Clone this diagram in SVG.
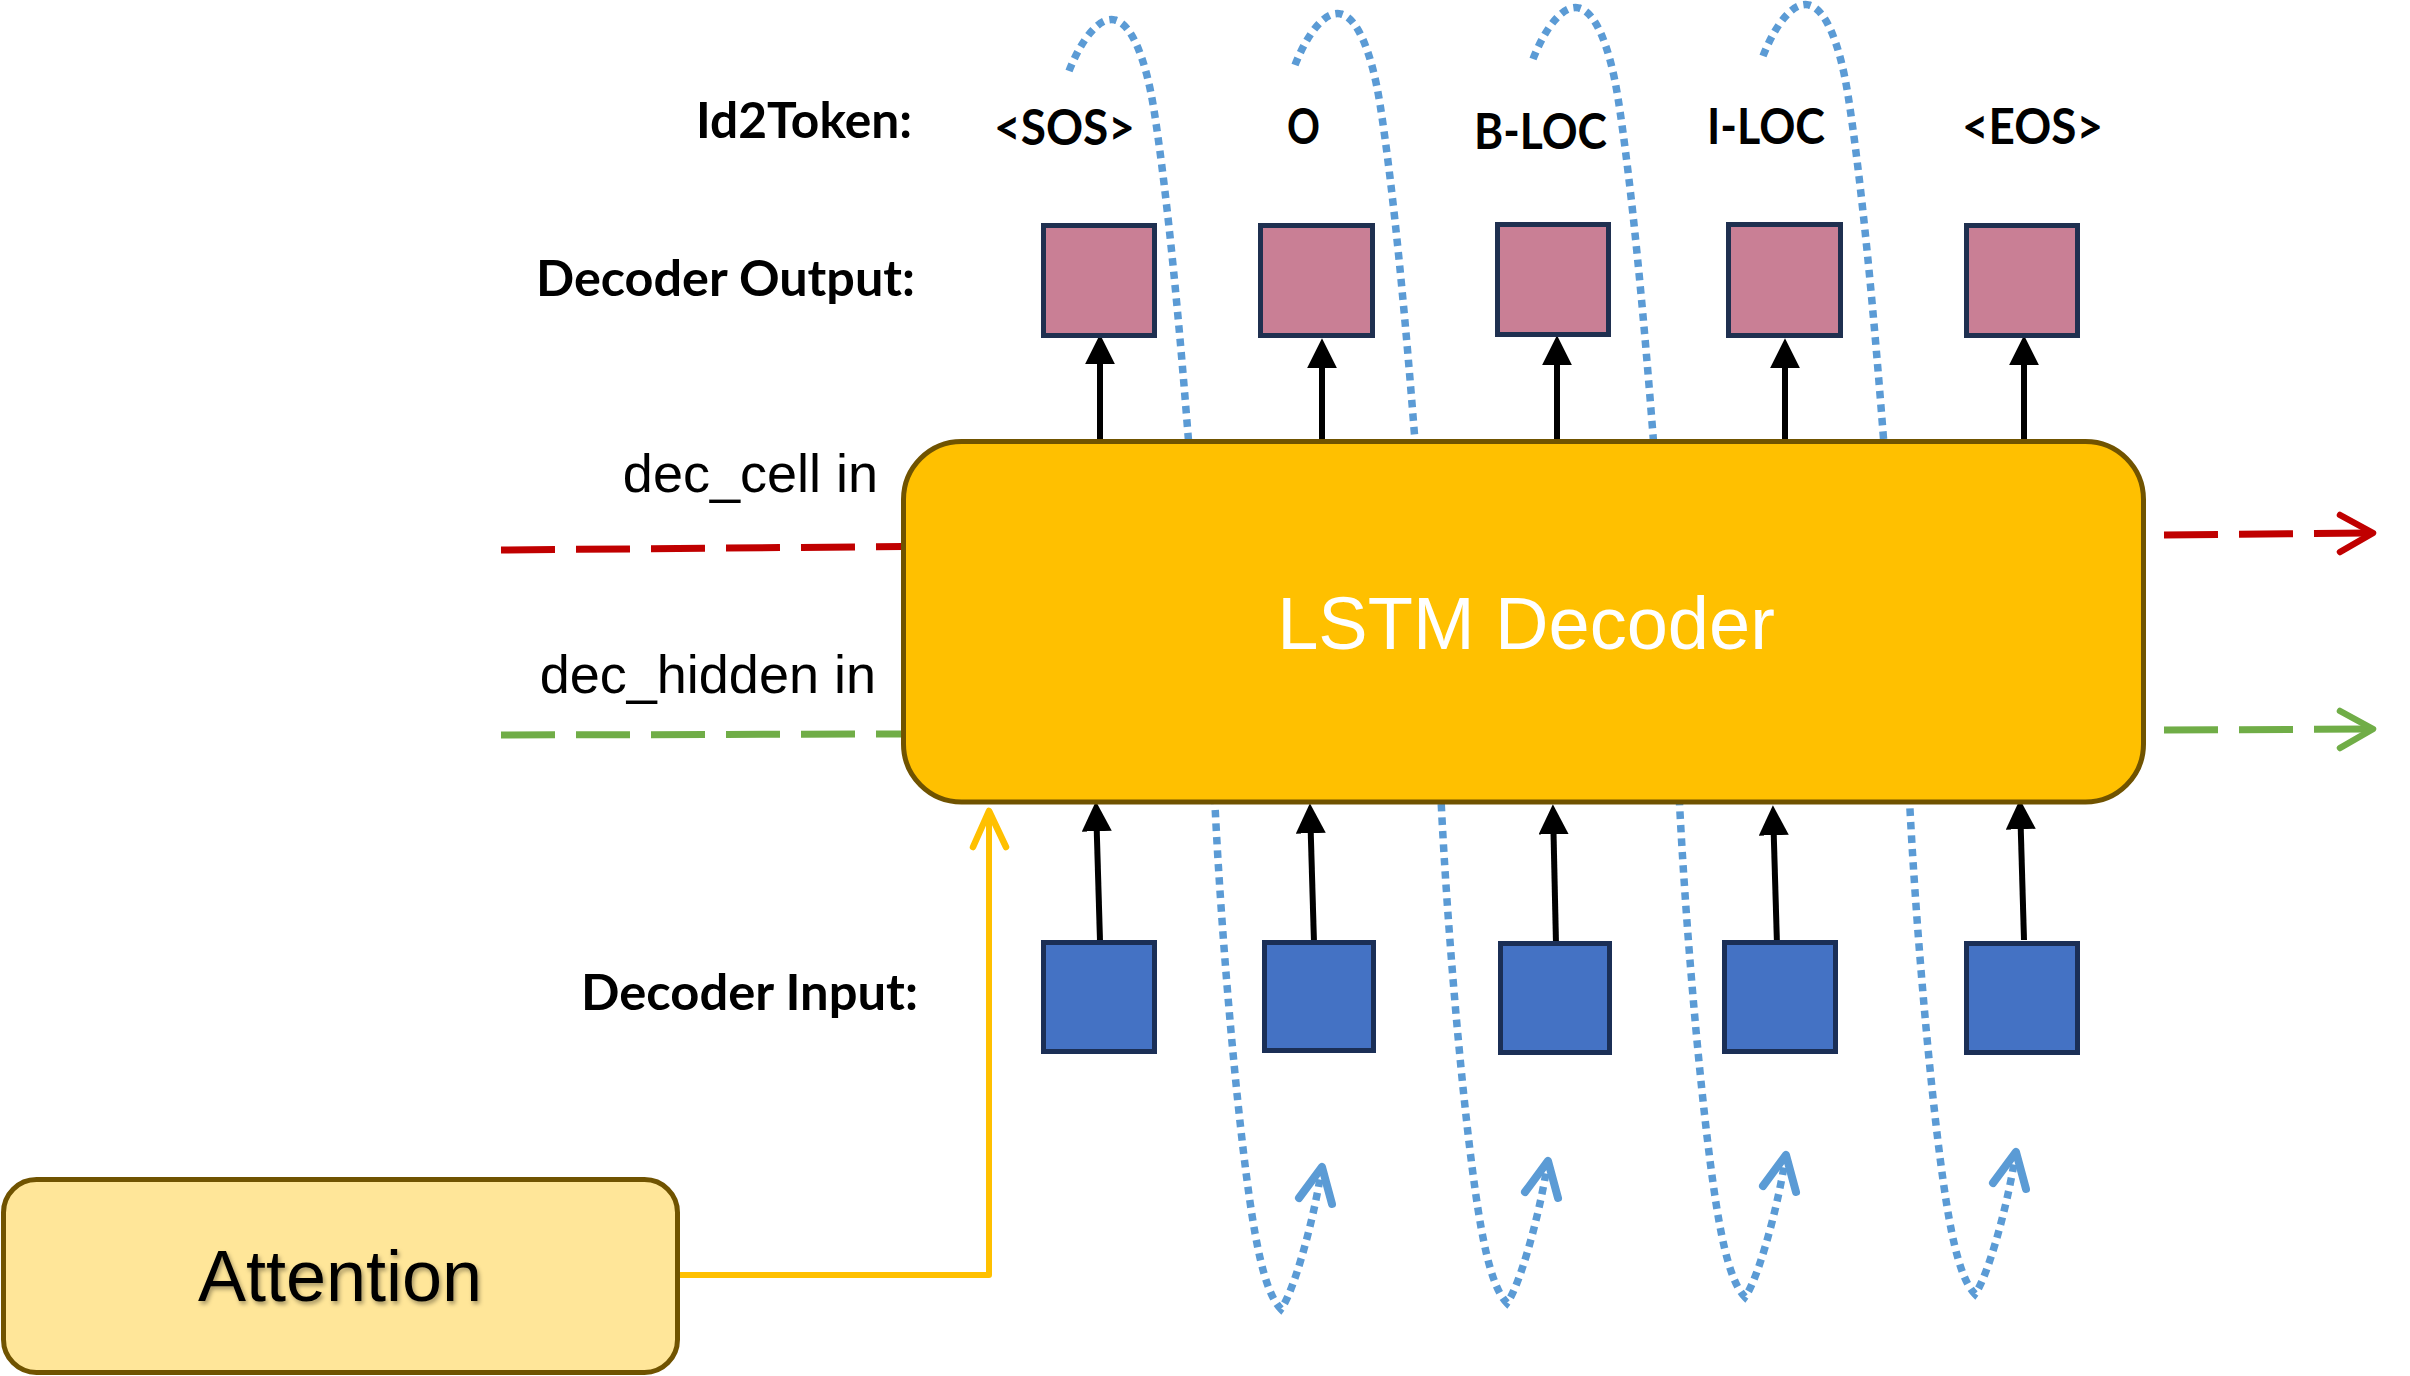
<svg xmlns="http://www.w3.org/2000/svg" xmlns:xlink="http://www.w3.org/1999/xlink" width="2410" height="1376" viewBox="0 0 2410 1376">
<style>
.lbl{font-family:Lato,"Open Sans","Liberation Sans",sans-serif;font-weight:bold;font-size:50px;fill:#000}
.reg{font-family:"Liberation Sans",Arial,sans-serif;fill:#000}
.outbox{fill:#C97F95;stroke:#1F3050;stroke-width:5}
.inbox{fill:#4472C4;stroke:#1B2F56;stroke-width:5}
.blk{stroke:#000;stroke-width:6;fill:none;marker-end:url(#ah)}
.dot{fill:none;stroke:#5B9BD5;stroke-width:7.5;stroke-dasharray:7.5 6}
.dothead{fill:none;stroke:#5B9BD5;stroke-width:8;stroke-linecap:round;stroke-linejoin:round}
.red{stroke:#C00000;stroke-width:7;fill:none;stroke-dasharray:54 21}
.grn{stroke:#70AD47;stroke-width:7;fill:none;stroke-dasharray:54 21}
.chev{fill:none;stroke-width:6.5;stroke-linecap:round;stroke-linejoin:round}
</style>
<defs>
<marker id="ah" markerUnits="userSpaceOnUse" markerWidth="30" markerHeight="30" viewBox="0 0 27 27" refX="2" refY="13.5" orient="auto">
<path d="M0,0 L27,13.5 L0,27 Z" fill="#000"/>
</marker>
<filter id="sh" x="-10%" y="-20%" width="130%" height="150%">
<feDropShadow dx="2" dy="3" stdDeviation="2" flood-color="#000" flood-opacity="0.35"/>
</filter>
<g id="loop">
<path class="dot" d="M1069,71 C1082,38 1100,16 1115,20 C1132,24 1146,60 1154,110 C1168,200 1180,330 1190,460 L1215,805 C1222,950 1240,1150 1255,1233 C1262,1272 1270,1298 1281,1309 C1292,1295 1312,1230 1322,1167"/>
<path class="dothead" d="M1299,1198 L1322,1167 L1332,1204"/>
</g>
</defs>

<g id="loops">
<use xlink:href="#loop" href="#loop"/>
<use xlink:href="#loop" href="#loop" transform="translate(226,-6)"/>
<use xlink:href="#loop" href="#loop" transform="translate(464,-12)"/>
<use xlink:href="#loop" href="#loop" transform="translate(694,-15)"/>
</g>

<g id="connectors">
<line class="red" x1="501" y1="550" x2="903" y2="546.5"/>
<line class="grn" x1="501" y1="735" x2="903" y2="734"/>
<line class="red" x1="2164" y1="535" x2="2371" y2="533"/>
<path class="chev" stroke="#C00000" d="M2340,515 L2373,533 L2340,552"/>
<line class="grn" x1="2164" y1="730" x2="2371" y2="729"/>
<path class="chev" stroke="#70AD47" d="M2340,711 L2373,729 L2340,748"/>
<path d="M680,1275 L989,1275 L989,813" fill="none" stroke="#FFC000" stroke-width="6" stroke-linejoin="round"/>
<path class="chev" stroke="#FFC000" stroke-width="5" d="M973,847 L989,811 L1006,847"/>
<line class="blk" x1="1100" y1="442" x2="1100" y2="362"/>
<line class="blk" x1="1322" y1="445" x2="1322" y2="366"/>
<line class="blk" x1="1557" y1="445" x2="1557" y2="363"/>
<line class="blk" x1="1785" y1="445" x2="1785" y2="366"/>
<line class="blk" x1="2024" y1="445" x2="2024" y2="363"/>
<line class="blk" x1="1100" y1="941" x2="1096.7" y2="829"/>
<line class="blk" x1="1314" y1="943" x2="1310.7" y2="831"/>
<line class="blk" x1="1556" y1="944" x2="1553.5" y2="832"/>
<line class="blk" x1="1777" y1="945" x2="1773.7" y2="833"/>
<line class="blk" x1="2024" y1="940" x2="2020.7" y2="827"/>
</g>

<g id="lstm">
<rect x="903.5" y="441.5" width="1240" height="360.5" rx="58" ry="58" fill="#FFC000" stroke="#705300" stroke-width="5"/>
<text class="reg" x="1526" y="649" font-size="74" fill="#FFFFFF" style="fill:#FFFFFF" text-anchor="middle">LSTM Decoder</text>
</g>

<g id="attention">
<rect x="3.5" y="1179.5" width="674" height="193" rx="33" ry="33" fill="#FFE699" stroke="#705300" stroke-width="5"/>
<text class="reg" x="340" y="1301" font-size="72" text-anchor="middle" filter="url(#sh)">Attention</text>
</g>

<g id="out1"><rect class="outbox" x="1043.5" y="225.5" width="111" height="110"/></g>
<g id="out2"><rect class="outbox" x="1260.5" y="225.5" width="112" height="110"/></g>
<g id="out3"><rect class="outbox" x="1497.5" y="224.5" width="111" height="110"/></g>
<g id="out4"><rect class="outbox" x="1728.5" y="224.5" width="112" height="111"/></g>
<g id="out5"><rect class="outbox" x="1966.5" y="225.5" width="111" height="110"/></g>

<g id="in1"><rect class="inbox" x="1043.5" y="942.5" width="111" height="109"/></g>
<g id="in2"><rect class="inbox" x="1264.5" y="942.5" width="109" height="108"/></g>
<g id="in3"><rect class="inbox" x="1500.5" y="943.5" width="109" height="109"/></g>
<g id="in4"><rect class="inbox" x="1724.5" y="942.5" width="111" height="109"/></g>
<g id="in5"><rect class="inbox" x="1966.5" y="943.5" width="111" height="109"/></g>

<g id="labels">
<text class="lbl" x="696" y="138" textLength="216" lengthAdjust="spacingAndGlyphs">Id2Token:</text>
<text class="lbl" x="536" y="296" textLength="379" lengthAdjust="spacingAndGlyphs">Decoder Output:</text>
<text class="lbl" x="581" y="1010" textLength="337" lengthAdjust="spacingAndGlyphs">Decoder Input:</text>
<text class="lbl" x="994" y="145" textLength="141" lengthAdjust="spacingAndGlyphs">&lt;SOS&gt;</text>
<text class="lbl" x="1287" y="144" textLength="33" lengthAdjust="spacingAndGlyphs">O</text>
<text class="lbl" x="1474" y="149" textLength="133" lengthAdjust="spacingAndGlyphs">B-LOC</text>
<text class="lbl" x="1707" y="144" textLength="118" lengthAdjust="spacingAndGlyphs">I-LOC</text>
<text class="lbl" x="1962" y="144" textLength="141" lengthAdjust="spacingAndGlyphs">&lt;EOS&gt;</text>
<text class="reg" x="878" y="492" font-size="54" text-anchor="end">dec_cell in</text>
<text class="reg" x="876" y="693" font-size="54" text-anchor="end">dec_hidden in</text>
</g>
</svg>
